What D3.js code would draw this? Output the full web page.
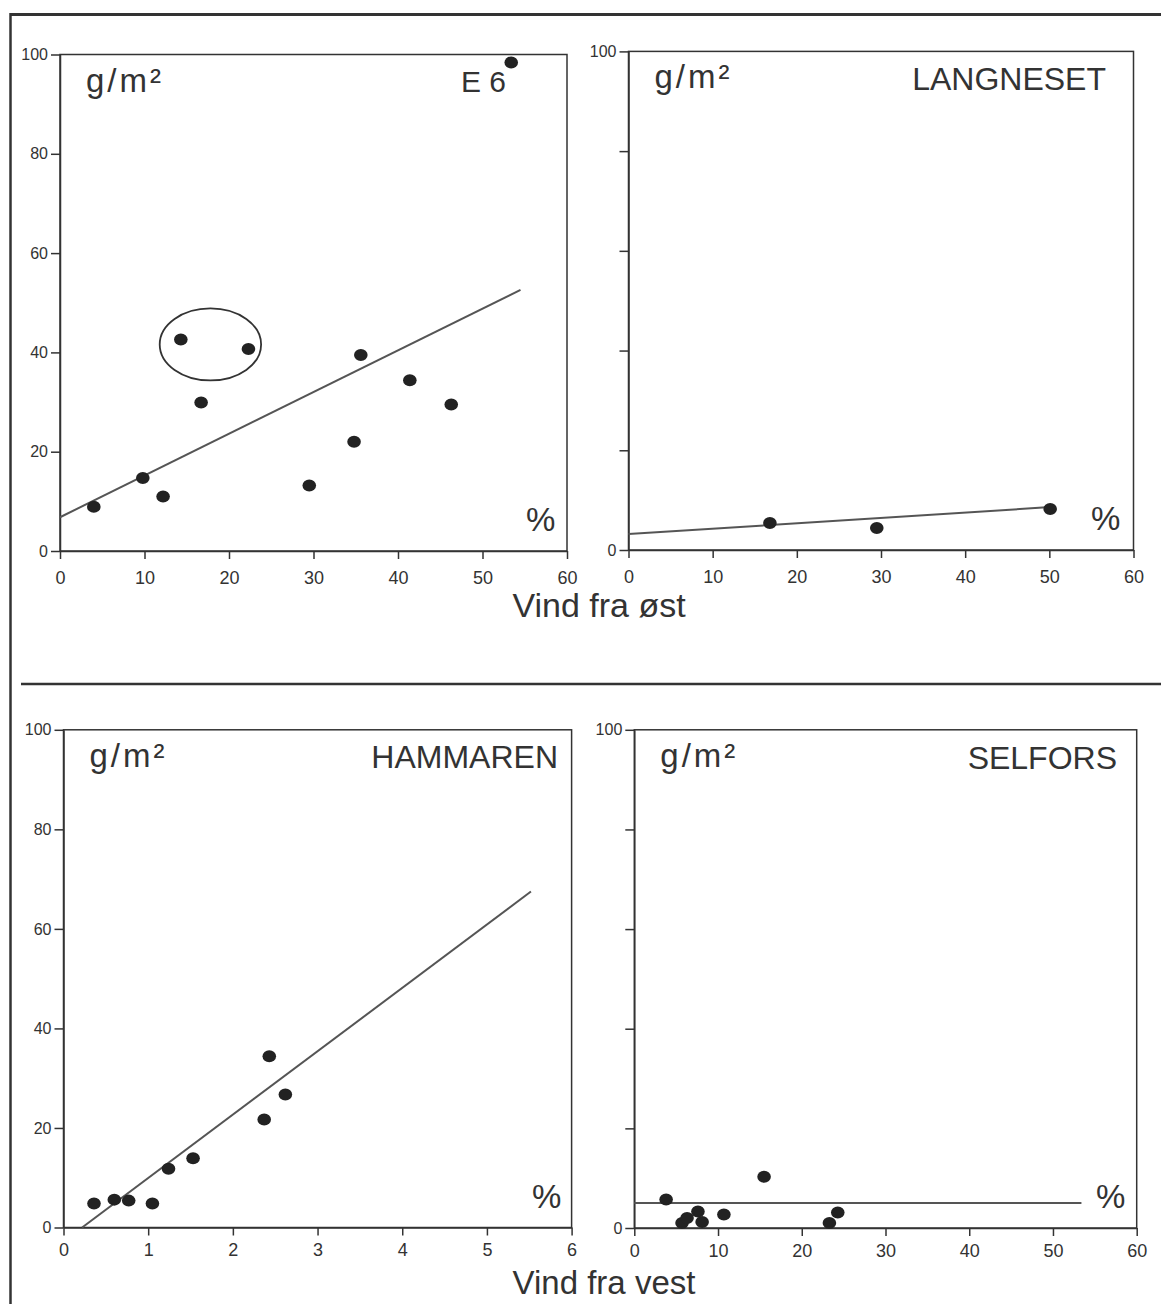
<!DOCTYPE html>
<html>
<head>
<meta charset="utf-8">
<script src="https://cdn.jsdelivr.net/npm/d3@7"></script>
<style>
  body { margin: 0; background: #fff; }
  svg { display: block; font-family: "Liberation Sans", Arial, sans-serif; }
  .axis text { fill: #333; }
  .axis line, .axis path { stroke: #333; stroke-width: 1.5; }
</style>
</head>
<body>
<svg id="chart" width="1161" height="1304"></svg>
<script>
// E6 (vind fra øst)
const e6X = [4.0, 9.8, 12.2, 14.3, 16.7, 22.3, 29.5, 34.8, 35.6, 41.4, 46.3, 53.4];
const e6Y = [8.9, 14.7, 11.0, 42.6, 29.9, 40.7, 13.2, 22.0, 39.5, 34.4, 29.5, 98.4];
const e6LineX = [0, 54.5];
const e6LineY = [6.8, 52.6];
const e6Ring = [17.8, 41.6, 6.0, 7.25]; // cx, cy, rx, ry in data units

// LANGNESET (vind fra øst)
const langX = [16.8, 29.5, 50.1];
const langY = [5.4, 4.4, 8.2];
const langLineX = [0, 50.1];
const langLineY = [3.2, 8.6];

// HAMMAREN (vind fra vest)
const hamX = [0.36, 0.60, 0.77, 1.05, 1.24, 1.53, 2.37, 2.43, 2.62];
const hamY = [4.8, 5.6, 5.4, 4.8, 11.8, 13.9, 21.7, 34.4, 26.7];
const hamLineX = [0.22, 5.52];
const hamLineY = [0, 67.5];

// SELFORS (vind fra vest)
const selX = [3.8, 5.7, 6.3, 7.6, 8.1, 10.7, 15.5, 23.3, 24.3];
const selY = [5.7, 1.0, 2.0, 3.3, 1.2, 2.7, 10.3, 1.0, 3.1];
const selLineX = [0, 53.4];
const selLineY = [5.0, 5.0];

const yTicks = [0, 20, 40, 60, 80, 100];
const pctTicks = [0, 10, 20, 30, 40, 50, 60];
const hamTicks = [0, 1, 2, 3, 4, 5, 6];

const svg = d3.select("#chart");

// outer frame: top rule, left rule, separator
svg.append("line").attr("x1", 10).attr("x2", 1161).attr("y1", 14.5).attr("y2", 14.5)
  .attr("stroke", "#333").attr("stroke-width", 3);
svg.append("line").attr("x1", 10.5).attr("x2", 10.5).attr("y1", 13).attr("y2", 1304)
  .attr("stroke", "#333").attr("stroke-width", 2.5);
svg.append("line").attr("x1", 21).attr("x2", 1161).attr("y1", 684).attr("y2", 684)
  .attr("stroke", "#333").attr("stroke-width", 2.5);

function drawPanel(p) {
  const x = d3.scaleLinear().domain(p.xDomain).range([p.left, p.right]);
  const y = d3.scaleLinear().domain([0, 100]).range([p.bottom, p.top]);

  svg.append("rect")
    .attr("x", p.left).attr("y", p.top)
    .attr("width", p.right - p.left).attr("height", p.bottom - p.top)
    .attr("fill", "none").attr("stroke", "#333").attr("stroke-width", 1.5);

  const ya = svg.append("g").attr("class", "axis")
    .attr("transform", `translate(${p.left},0)`)
    .call(d3.axisLeft(y).tickValues(yTicks).tickSize(9).tickSizeOuter(0).tickPadding(3)
      .tickFormat((d) => (p.allYLabels || d === 0 || d === 100 ? d : "")));
  ya.selectAll("text").style("font-size", "16px");

  const xa = svg.append("g").attr("class", "axis")
    .attr("transform", `translate(0,${p.bottom})`)
    .call(d3.axisBottom(x).tickValues(p.xTicks).tickSize(8).tickSizeOuter(0).tickPadding(p.xPad)
      .tickFormat(d3.format("d")));
  xa.selectAll("text").style("font-size", "18px");

  if (p.ring) {
    svg.append("ellipse")
      .attr("cx", x(p.ring[0])).attr("cy", y(p.ring[1]))
      .attr("rx", x(p.ring[0] + p.ring[2]) - x(p.ring[0]))
      .attr("ry", y(p.ring[1]) - y(p.ring[1] + p.ring[3]))
      .attr("fill", "none").attr("stroke", "#333").attr("stroke-width", 1.8);
  }

  svg.append("line")
    .attr("x1", x(p.lineX[0])).attr("y1", y(p.lineY[0]))
    .attr("x2", x(p.lineX[1])).attr("y2", y(p.lineY[1]))
    .attr("stroke", "#555").attr("stroke-width", 2);

  svg.append("g").selectAll("ellipse")
    .data(p.xs.map((v, i) => [v, p.ys[i]]))
    .join("ellipse")
    .attr("cx", (d) => x(d[0])).attr("cy", (d) => y(d[1]))
    .attr("rx", 6.8).attr("ry", 6)
    .attr("fill", "#222");

  svg.append("text")
    .attr("x", p.left + 26).attr("y", p.top + 37)
    .attr("fill", "#333").style("font-size", "33px").style("letter-spacing", "3px")
    .text("g/m²");

  svg.append("text")
    .attr("x", p.titleX).attr("y", p.titleY)
    .attr("text-anchor", "end")
    .attr("fill", "#333").style("font-size", p.titleSize + "px")
    .text(p.title);

  svg.append("text")
    .attr("x", p.pctX).attr("y", p.bottom - 20)
    .attr("fill", "#333").style("font-size", "33px")
    .text("%");
}

drawPanel({
  left: 60, right: 567, top: 54.5, bottom: 551, xPad: 12,
  xDomain: [0, 60], xTicks: pctTicks, allYLabels: true,
  xs: e6X, ys: e6Y, lineX: e6LineX, lineY: e6LineY, ring: e6Ring,
  title: "E 6", titleX: 506, titleY: 92, titleSize: 30, pctX: 526,
});
drawPanel({
  left: 628.5, right: 1133.5, top: 51.4, bottom: 550, xPad: 12,
  xDomain: [0, 60], xTicks: pctTicks, allYLabels: false,
  xs: langX, ys: langY, lineX: langLineX, lineY: langLineY,
  title: "LANGNESET", titleX: 1106, titleY: 90, titleSize: 32, pctX: 1091,
});
drawPanel({
  left: 63.5, right: 571.6, top: 729.8, bottom: 1227.5, xPad: 8,
  xDomain: [0, 6], xTicks: hamTicks, allYLabels: true,
  xs: hamX, ys: hamY, lineX: hamLineX, lineY: hamLineY,
  title: "HAMMAREN", titleX: 558, titleY: 768, titleSize: 32, pctX: 532,
});
drawPanel({
  left: 634.3, right: 1136.7, top: 729.8, bottom: 1228, xPad: 8,
  xDomain: [0, 60], xTicks: pctTicks, allYLabels: false,
  xs: selX, ys: selY, lineX: selLineX, lineY: selLineY,
  title: "SELFORS", titleX: 1117, titleY: 769, titleSize: 32, pctX: 1096,
});

svg.append("text").attr("x", 599).attr("y", 617).attr("text-anchor", "middle")
  .attr("fill", "#333").style("font-size", "34px").text("Vind fra øst");
svg.append("text").attr("x", 604).attr("y", 1294).attr("text-anchor", "middle")
  .attr("fill", "#333").style("font-size", "33px").text("Vind fra vest");
</script>
</body>
</html>
